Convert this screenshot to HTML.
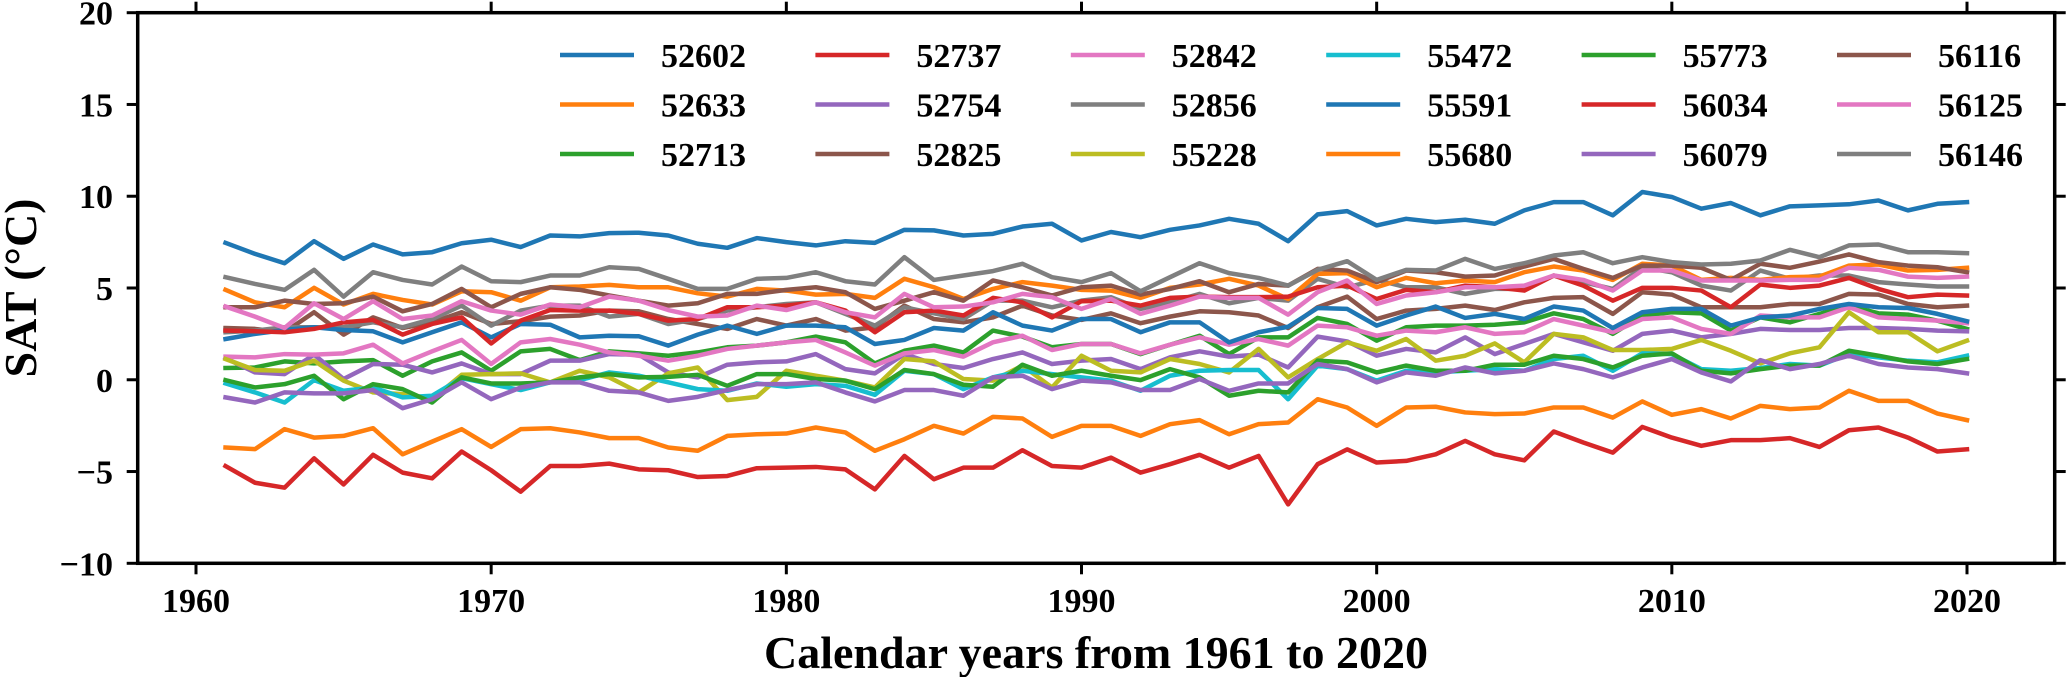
<!DOCTYPE html>
<html><head><meta charset="utf-8">
<style>
html,body{margin:0;padding:0;background:#fff;}
svg{display:block;}
text{font-family:"Liberation Serif","Times New Roman",serif;font-weight:bold;fill:#000;}
</style></head>
<body>
<svg id="chart" width="2067" height="677" viewBox="0 0 2067 677" xmlns="http://www.w3.org/2000/svg">
<g id="series"></g>
<g id="axes"></g>
<g id="legend"></g>
<text x="0" y="0" font-size="46" text-anchor="middle" transform="translate(36,288) rotate(-90)">SAT (°C)</text>
<text x="1096" y="668" font-size="46" text-anchor="middle">Calendar years from 1961 to 2020</text>
</svg>
<script>
const stations = ["52602","52633","52713","52737","52754","52825","52842","52856","55228","55472","55591","55680","55773","56034","56079","56116","56125","56146"];
const colors = ["#1f77b4","#ff7f0e","#2ca02c","#d62728","#9467bd","#8c564b","#e377c2","#7f7f7f","#bcbd22","#17becf","#1f77b4","#ff7f0e","#2ca02c","#d62728","#9467bd","#8c564b","#e377c2","#7f7f7f"];
const xTicks = [1960,1970,1980,1990,2000,2010,2020];
const yTicks = [-10,-5,0,5,10,15,20];
const yTickLabels = ["\u221210","\u22125","0","5","10","15","20"];
const startYear = 1961;

const s52602 = [7.46,6.86,6.35,7.55,6.59,7.37,6.83,6.95,7.44,7.63,7.23,7.86,7.81,7.99,8.01,7.86,7.41,7.19,7.72,7.5,7.32,7.55,7.46,8.17,8.14,7.86,7.95,8.35,8.5,7.59,8.05,7.77,8.17,8.41,8.77,8.5,7.55,9.01,9.19,8.41,8.77,8.59,8.72,8.5,9.23,9.68,9.68,8.96,10.23,9.96,9.32,9.63,8.96,9.45,9.5,9.56,9.77,9.23,9.59,9.68];
const s52633 = [-3.69,-3.78,-2.69,-3.15,-3.06,-2.64,-4.06,-3.37,-2.69,-3.66,-2.69,-2.64,-2.87,-3.18,-3.18,-3.69,-3.87,-3.06,-2.97,-2.93,-2.6,-2.87,-3.87,-3.24,-2.51,-2.93,-2.02,-2.11,-3.11,-2.51,-2.51,-3.06,-2.42,-2.2,-2.97,-2.42,-2.33,-1.06,-1.51,-2.51,-1.51,-1.47,-1.78,-1.87,-1.84,-1.51,-1.51,-2.06,-1.18,-1.91,-1.6,-2.11,-1.42,-1.6,-1.51,-0.6,-1.15,-1.15,-1.84,-2.2];
const s52713 = [0.64,0.67,1.0,0.89,1.0,1.07,0.22,1.0,1.49,0.49,1.55,1.68,1.07,1.55,1.44,1.31,1.49,1.77,1.86,2.04,2.35,2.04,0.89,1.58,1.86,1.49,2.68,2.35,1.77,1.95,1.95,1.4,1.91,2.4,1.4,2.31,2.31,3.37,3.04,2.13,2.86,2.95,2.95,3.0,3.13,3.62,3.31,2.5,3.5,3.68,3.62,2.68,3.4,3.13,3.59,4.04,3.62,3.55,3.22,2.77];
const s52737 = [-4.7,-5.61,-5.88,-4.28,-5.7,-4.09,-5.06,-5.37,-3.91,-4.93,-6.1,-4.7,-4.7,-4.57,-4.88,-4.93,-5.3,-5.24,-4.82,-4.79,-4.75,-4.88,-5.97,-4.15,-5.42,-4.79,-4.79,-3.84,-4.7,-4.79,-4.24,-5.06,-4.6,-4.09,-4.79,-4.15,-6.79,-4.6,-3.79,-4.51,-4.42,-4.06,-3.33,-4.06,-4.39,-2.82,-3.42,-3.97,-2.57,-3.15,-3.6,-3.29,-3.29,-3.18,-3.66,-2.75,-2.6,-3.15,-3.91,-3.79];
const s52754 = [1.18,0.4,0.31,1.37,0.04,0.86,0.82,0.4,0.89,0.31,0.31,1.04,1.04,1.4,1.37,0.4,0.13,0.82,0.95,1.0,1.4,0.58,0.35,1.4,0.86,0.64,1.13,1.49,0.86,1.04,1.13,0.58,1.22,1.55,1.26,1.37,0.67,2.35,2.09,1.31,1.68,1.49,2.31,1.4,1.95,2.5,2.04,1.58,2.5,2.68,2.31,2.5,2.77,2.71,2.71,2.82,2.82,2.77,2.68,2.64];
const s52825 = [2.82,2.77,2.59,3.68,2.46,3.4,2.82,3.13,3.68,3.04,3.19,3.44,3.5,3.77,3.73,3.31,3.04,2.77,3.31,2.95,3.31,2.68,2.86,4.04,3.31,3.13,3.4,4.04,3.5,3.26,3.62,3.08,3.44,3.73,3.68,3.5,2.82,3.95,4.53,3.31,3.77,3.86,4.04,3.8,4.22,4.46,4.5,3.59,4.77,4.64,3.95,3.95,3.95,4.13,4.13,4.68,4.64,4.13,3.95,4.04];
const s52842 = [1.26,1.22,1.4,1.37,1.44,1.91,0.89,1.55,2.17,0.86,2.04,2.22,1.91,1.49,1.31,1.04,1.31,1.68,1.86,2.04,2.17,1.49,0.77,1.44,1.62,1.26,2.04,2.4,1.62,1.95,1.95,1.44,1.91,2.31,1.91,2.22,1.86,2.95,2.86,2.4,2.68,2.59,2.86,2.5,2.59,3.31,2.95,2.59,3.31,3.4,2.77,2.5,3.5,3.4,3.4,3.95,3.4,3.31,3.22,3.08];
const s52856 = [2.59,2.68,2.86,2.86,2.86,3.13,2.86,3.31,4.04,2.95,3.77,4.04,4.04,3.44,3.59,3.04,3.31,3.77,3.95,4.13,4.22,3.59,2.95,3.95,3.62,3.31,4.31,4.31,3.95,4.31,4.5,3.86,4.22,4.68,4.17,4.46,4.31,5.5,5.04,5.44,5.04,5.04,4.68,4.95,4.95,5.68,5.32,4.95,6.13,5.86,5.13,4.86,5.95,5.5,5.68,5.68,5.32,5.19,5.08,5.08];
const s55228 = [1.13,0.53,0.49,1.04,-0.05,-0.69,-0.78,-1.06,0.27,0.31,0.35,-0.14,0.49,0.13,-0.69,0.35,0.67,-1.11,-0.93,0.49,0.22,-0.05,-0.42,1.13,1.0,0.04,-0.05,0.77,-0.42,1.31,0.49,0.4,1.13,0.86,0.4,1.68,0.13,1.13,2.04,1.58,2.22,1.04,1.31,1.98,0.95,2.5,2.31,1.62,1.62,1.68,2.17,1.58,0.89,1.44,1.77,3.68,2.59,2.59,1.55,2.13];
const s55472 = [-0.2,-0.69,-1.24,-0.02,-0.6,-0.42,-0.96,-0.87,0.09,-0.24,-0.56,-0.14,-0.02,0.4,0.22,-0.14,-0.51,-0.6,-0.2,-0.38,-0.24,-0.33,-0.82,0.49,0.31,-0.51,0.13,0.49,0.31,0.13,-0.05,-0.6,0.22,0.49,0.53,0.53,-1.06,0.77,0.58,-0.05,0.49,0.4,0.49,0.58,0.49,1.13,1.31,0.49,1.44,1.4,0.58,0.49,0.64,0.86,0.77,1.4,1.22,1.04,0.95,1.31];
const s55591 = [2.22,2.5,2.71,2.86,2.71,2.64,2.04,2.59,3.13,2.31,3.04,3.0,2.31,2.4,2.37,1.86,2.46,2.95,2.5,2.95,2.95,2.86,1.95,2.17,2.82,2.68,3.68,2.95,2.68,3.31,3.31,2.59,3.13,3.13,2.04,2.59,2.89,3.91,3.86,2.95,3.5,3.99,3.37,3.59,3.31,3.99,3.77,2.82,3.68,3.86,3.86,2.95,3.4,3.5,3.86,4.13,3.95,3.91,3.59,3.19];
const s55680 = [4.9,4.22,3.95,5.01,4.1,4.68,4.35,4.1,4.82,4.77,4.31,5.04,5.08,5.17,5.04,5.04,4.71,4.53,4.95,4.86,4.64,4.68,4.46,5.5,5.04,4.4,4.95,5.32,5.13,4.9,4.86,4.46,5.01,5.19,5.5,5.13,4.4,5.77,5.81,5.04,5.55,5.26,5.41,5.32,5.86,6.17,5.95,5.44,6.32,6.22,5.44,5.55,5.44,5.59,5.62,6.22,6.28,5.95,5.99,6.1];
const s55773 = [-0.02,-0.42,-0.24,0.22,-1.06,-0.24,-0.51,-1.24,0.13,-0.2,-0.2,-0.14,0.13,0.31,0.13,0.16,0.27,-0.33,0.31,0.31,0.04,-0.05,-0.51,0.53,0.31,-0.27,-0.38,0.82,0.22,0.49,0.22,-0.02,0.58,0.13,-0.87,-0.6,-0.69,1.04,0.95,0.4,0.77,0.49,0.49,0.82,0.82,1.31,1.13,0.67,1.31,1.44,0.49,0.35,0.58,0.77,0.77,1.58,1.31,1.0,0.86,1.13];
const s56034 = [2.68,2.64,2.59,2.77,3.13,3.26,2.46,3.04,3.4,1.98,3.22,3.8,3.77,3.77,3.59,3.22,3.31,3.95,3.95,4.04,4.22,3.77,2.59,3.68,3.77,3.5,4.46,4.22,3.4,4.28,4.31,4.04,4.46,4.53,4.5,4.5,4.53,5.04,5.13,4.4,4.9,4.77,5.13,5.04,4.86,5.68,5.13,4.31,5.01,5.01,4.86,3.95,5.19,5.01,5.13,5.55,4.95,4.5,4.64,4.59];
const s56079 = [-0.96,-1.24,-0.69,-0.74,-0.74,-0.56,-1.55,-1.06,-0.14,-1.06,-0.42,-0.14,-0.14,-0.6,-0.69,-1.15,-0.93,-0.56,-0.24,-0.24,-0.14,-0.69,-1.18,-0.56,-0.56,-0.87,0.13,0.22,-0.51,-0.05,-0.14,-0.56,-0.56,0.04,-0.6,-0.2,-0.2,0.86,0.58,-0.14,0.4,0.22,0.67,0.35,0.49,0.89,0.58,0.13,0.67,1.13,0.4,-0.09,1.07,0.58,0.86,1.31,0.86,0.67,0.58,0.35];
const s56116 = [3.95,3.95,4.31,4.13,4.17,4.53,3.73,4.13,4.95,3.95,4.68,5.04,4.9,4.59,4.31,4.04,4.17,4.68,4.68,4.9,5.04,4.77,3.86,4.31,4.77,4.31,5.41,5.04,4.59,5.04,5.13,4.64,4.95,5.37,4.77,5.22,5.13,6.04,5.95,5.32,5.95,5.86,5.62,5.68,6.17,6.59,6.04,5.55,6.22,6.22,6.1,5.44,6.32,6.1,6.44,6.83,6.41,6.22,6.13,5.86];
const s56125 = [3.99,3.44,2.82,4.17,3.31,4.28,3.31,3.5,4.28,3.77,3.55,4.1,3.95,4.53,4.31,3.8,3.44,3.5,4.04,3.8,4.22,3.68,3.4,4.68,3.95,3.99,4.22,4.68,4.5,3.86,4.4,3.59,4.04,4.53,4.46,4.46,3.55,4.77,5.41,4.13,4.59,4.77,5.04,5.04,5.13,5.68,5.44,4.86,5.95,5.95,5.41,5.41,5.41,5.44,5.44,6.1,5.99,5.62,5.55,5.62];
const s56146 = [5.59,5.22,4.9,5.99,4.53,5.86,5.44,5.19,6.17,5.37,5.32,5.68,5.68,6.13,6.04,5.5,4.95,4.95,5.5,5.55,5.86,5.37,5.19,6.68,5.44,5.68,5.92,6.32,5.59,5.32,5.81,4.82,5.59,6.35,5.81,5.55,5.13,5.99,6.46,5.44,5.99,5.95,6.59,6.04,6.35,6.77,6.95,6.35,6.68,6.41,6.28,6.32,6.5,7.08,6.68,7.32,7.37,6.95,6.95,6.9];

const seriesValues = [s52602,s52633,s52713,s52737,s52754,s52825,s52842,s52856,s55228,s55472,s55591,s55680,s55773,s56034,s56079,s56116,s56125,s56146];

const NS = "http://www.w3.org/2000/svg";
const L = 137.7, R = 2054.7, T = 12.7, B = 563.3;
const xMin = 1960, xMax = 2020, x0px = 196, x1px = 1967;
const yMin = -10, yMax = 20;
function xScale(yr){ return x0px + (yr - xMin) * (x1px - x0px) / (xMax - xMin); }
function yScale(v){ return B - (v - yMin) * (B - T) / (yMax - yMin); }
function mk(tag, attrs, parent){
  const e = document.createElementNS(NS, tag);
  for (const k in attrs) e.setAttribute(k, attrs[k]);
  parent.appendChild(e);
  return e;
}

const gS = document.getElementById("series");
seriesValues.forEach((vals, i) => {
  const pts = vals.map((v, j) => xScale(startYear + j).toFixed(2) + "," + yScale(v).toFixed(2)).join(" ");
  const pl = mk("polyline", {points: pts, fill: "none", stroke: colors[i], "stroke-width": 4.5, "stroke-linejoin": "round", "stroke-linecap": "square"}, gS);
  
  
});

const gA = document.getElementById("axes");
const frame = mk("rect", {x: L, y: T, width: R - L, height: B - T, fill: "none", stroke: "#000", "stroke-width": 3.5}, gA);



xTicks.forEach(yr => {
  const x = xScale(yr);
  const tb = mk("line", {x1: x, x2: x, y1: B, y2: B + 11, stroke: "#000", "stroke-width": 3}, gA);
  
  
  const tt = mk("line", {x1: x, x2: x, y1: T, y2: T - 11, stroke: "#000", "stroke-width": 3}, gA);
  
  
  const lb = mk("text", {x: x, y: 612, "font-size": 34, "text-anchor": "middle"}, gA);
  lb.textContent = String(yr);
  
  
});

yTicks.forEach((v, i) => {
  const y = yScale(v);
  const tl = mk("line", {x1: L, x2: L - 11, y1: y, y2: y, stroke: "#000", "stroke-width": 3}, gA);
  
  
  const tr = mk("line", {x1: R, x2: R + 11, y1: y, y2: y, stroke: "#000", "stroke-width": 3}, gA);
  
  
  const lb = mk("text", {x: 113, y: y + 12, "font-size": 34, "text-anchor": "end"}, gA);
  lb.textContent = yTickLabels[i];
  
  
});

const gL = document.getElementById("legend");
stations.forEach((name, i) => {
  const col = Math.floor(i / 3), row = i % 3;
  const lx = 560 + col * 255.4, ly = 55 + row * 49.5;
  const ln = mk("line", {x1: lx, x2: lx + 74, y1: ly, y2: ly, stroke: colors[i], "stroke-width": 4.5}, gL);
  
  
  const tx = mk("text", {x: lx + 101, y: ly + 12, "font-size": 34}, gL);
  tx.textContent = name;
  
  
});
</script>
</body></html>
